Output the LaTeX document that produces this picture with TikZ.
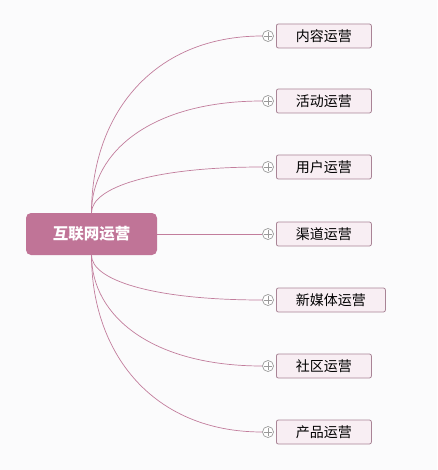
\documentclass[tikz,border=0pt]{standalone}
\usepackage{fontspec}
\setmainfont{Noto Sans CJK SC}
\usepackage{tikz}
\usetikzlibrary{calc}

\definecolor{rootpink}{HTML}{C07497}
\definecolor{branchpink}{HTML}{C27D9C}
\definecolor{topicfill}{HTML}{F8EEF3}
\definecolor{topicline}{HTML}{A98496}
\definecolor{foldgray}{HTML}{9A9A9A}
\definecolor{canvas}{HTML}{FBFBFC}

\tikzset{
  rootbox/.style={fill=rootpink, rounded corners=5pt, minimum width=131pt,
    minimum height=42pt, text=white, font=\fontsize{15.5}{17}\selectfont\bfseries},
  topicbox/.style={draw=topicline, fill=topicfill, rounded corners=2pt,
    minimum height=24pt, inner xsep=19.5pt, inner ysep=0pt, line width=0.8pt,
    font=\fontsize{14}{16}\selectfont, anchor=west},
  foldmark/.style={circle, draw=foldgray, fill=white, minimum size=11pt,
    inner sep=0pt, line width=0.7pt,
    path picture={\draw[foldgray, line width=0.7pt]
      ($(path picture bounding box.west)+(1.8pt,0)$) -- ($(path picture bounding box.east)+(-1.8pt,0)$)
      ($(path picture bounding box.north)+(0,-1.8pt)$) -- ($(path picture bounding box.south)+(0,1.8pt)$);}},
  branch/.style={draw=branchpink, line width=0.7pt}
}

\begin{document}
\begin{tikzpicture}[x=1pt, y=-1pt]
  \fill[canvas] (0,0) rectangle (437,470);
  \useasboundingbox (0,0) rectangle (437,470);

  % central topic
  \node[rootbox] (root) at (91.5,234) {互联网运营};

  % subtopics
  \foreach \i/\txt/\ypos in {1/内容运营/36, 2/活动运营/101, 3/用户运营/167,
      4/渠道运营/234, 5/新媒体运营/300, 6/社区运营/366, 7/产品运营/432} {
    \node[topicbox] (topic\i) at (276,\ypos) {\txt};
    \node[foldmark] (fold\i) at (268,\ypos) {};
  }

  % branches
  \foreach \i/\ypos in {1/36, 2/101, 3/167} {
    \pgfmathsetmacro{\dy}{0.55*(213-\ypos)}
    \draw[branch] (root.north) .. controls +(0,-\dy) and +(-110,0) .. (fold\i.west);
  }
  \foreach \i/\ypos in {5/300, 6/366, 7/432} {
    \pgfmathsetmacro{\dy}{0.55*(\ypos-255)}
    \draw[branch] (root.south) .. controls +(0,\dy) and +(-110,0) .. (fold\i.west);
  }
  \draw[branch] (root.east) -- (fold4.west);
\end{tikzpicture}
\end{document}
